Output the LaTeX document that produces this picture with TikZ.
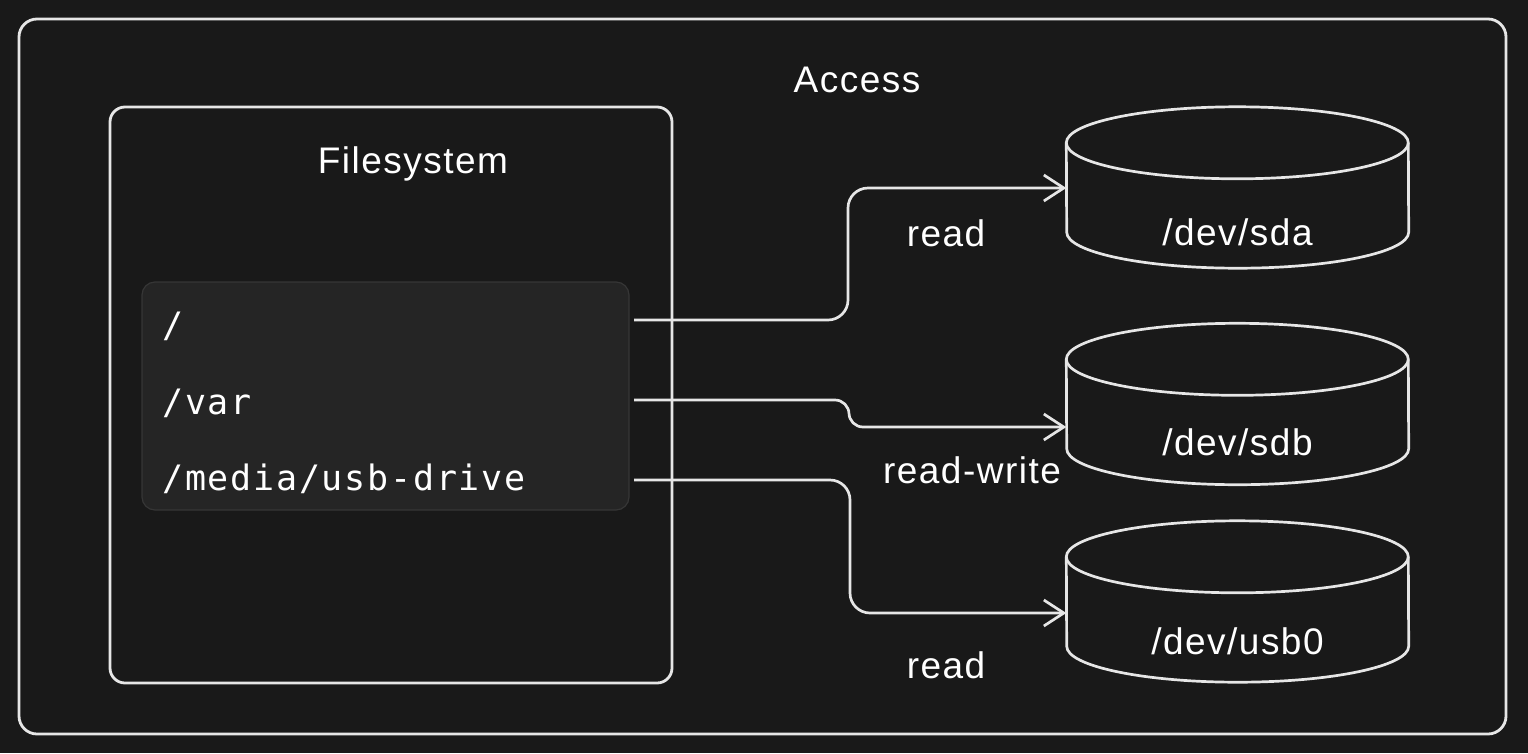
\documentclass[tikz,border=0pt]{standalone}
\usepackage{fontspec}
\setmainfont{Liberation Sans}[LetterSpace=4]
\newfontfamily\monof{DejaVu Sans Mono}[LetterSpace=5]
\usetikzlibrary{arrows.meta,calc}
\definecolor{bgc}{HTML}{191919}
\definecolor{ink}{HTML}{E6E6E6}
\definecolor{panel}{HTML}{252525}
\definecolor{panelline}{HTML}{363636}
\tikzset{
  frame/.style={draw=ink, line width=2.8pt, rounded corners=18pt},
  lbl/.style={text=white, font=\fontsize{37}{40}\selectfont, inner sep=0pt, anchor=base},
  code/.style={text=white, font=\monof\fontsize{35}{40}\selectfont, inner sep=0pt, anchor=base west},
  cylbox/.style={minimum width=342pt, minimum height=161pt, inner sep=0pt},
  cylline/.style={draw=ink, line width=2.7pt},
  conn/.style={draw=ink, line width=2.7pt, rounded corners=20pt,
    -{Straight Barb[length=20pt,width=26pt,line width=2.7pt]}},
}
\newcommand\drawcyl[1]{%
  \draw[cylline] ([yshift=-36pt]#1.north west)
     arc[start angle=180,end angle=0,x radius=171pt,y radius=36pt]
     -- ([yshift=36pt]#1.south east)
     arc[start angle=0,end angle=-180,x radius=171pt,y radius=36pt]
     -- cycle;
  \draw[cylline] ([yshift=-36pt]#1.north west)
     arc[start angle=180,end angle=360,x radius=171pt,y radius=36pt];
}
\begin{document}
\begin{tikzpicture}[x=1pt,y=-1pt]
\fill[bgc] (0,0) rectangle (1528,753);
\useasboundingbox (0,0) rectangle (1528,753);

% outer frame
\draw[frame] (19,19) rectangle (1506,734);
\node[lbl] (access) at (857,92) {Access};

% filesystem frame
\draw[frame, rounded corners=15pt] (110,107) rectangle (672,683);
\node[lbl] (fs) at (413,173) {Filesystem};

% inner panel
\node[draw=panelline, fill=panel, line width=1.2pt, rounded corners=13pt,
      minimum width=487pt, minimum height=228pt, inner sep=0pt] (panel) at (385.5,396) {};
\node[code] (root) at (162,337) {/};
\node[code] (var) at (162,414) {/var};
\node[code] (media) at (162,490) {/media/usb-drive};

\coordinate (o1) at (634,320);
\coordinate (o2) at (634,400);
\coordinate (o3) at (634,480);

% cylinders
\node[cylbox] (sda) at (1237.5,187.5) {};
\node[cylbox] (sdb) at (1237.5,404) {};
\node[cylbox] (usb) at (1237.5,601.5) {};
\drawcyl{sda}
\drawcyl{sdb}
\drawcyl{usb}
\node[lbl] (sdal) at (1237.5,245) {/dev/sda};
\node[lbl] (sdbl) at (1237.5,455) {/dev/sdb};
\node[lbl] (usbl) at (1237.5,654) {/dev/usb0};

% connectors
\draw[conn] (o1) -- (848,320) -- (848,188) -- (sda.west |- 0,188);
\draw[conn, rounded corners=14pt] (o2) -- (849,400) -- (849,427) -- (sdb.west |- 0,427);
\draw[conn] (o3) -- (850,480) -- (850,613) -- (usb.west |- 0,613);

\node[lbl] (l1) at (946,246) {read};
\node[lbl] (l2) at (972,483) {read-write};
\node[lbl] (l3) at (946,678) {read};
\end{tikzpicture}
\end{document}
